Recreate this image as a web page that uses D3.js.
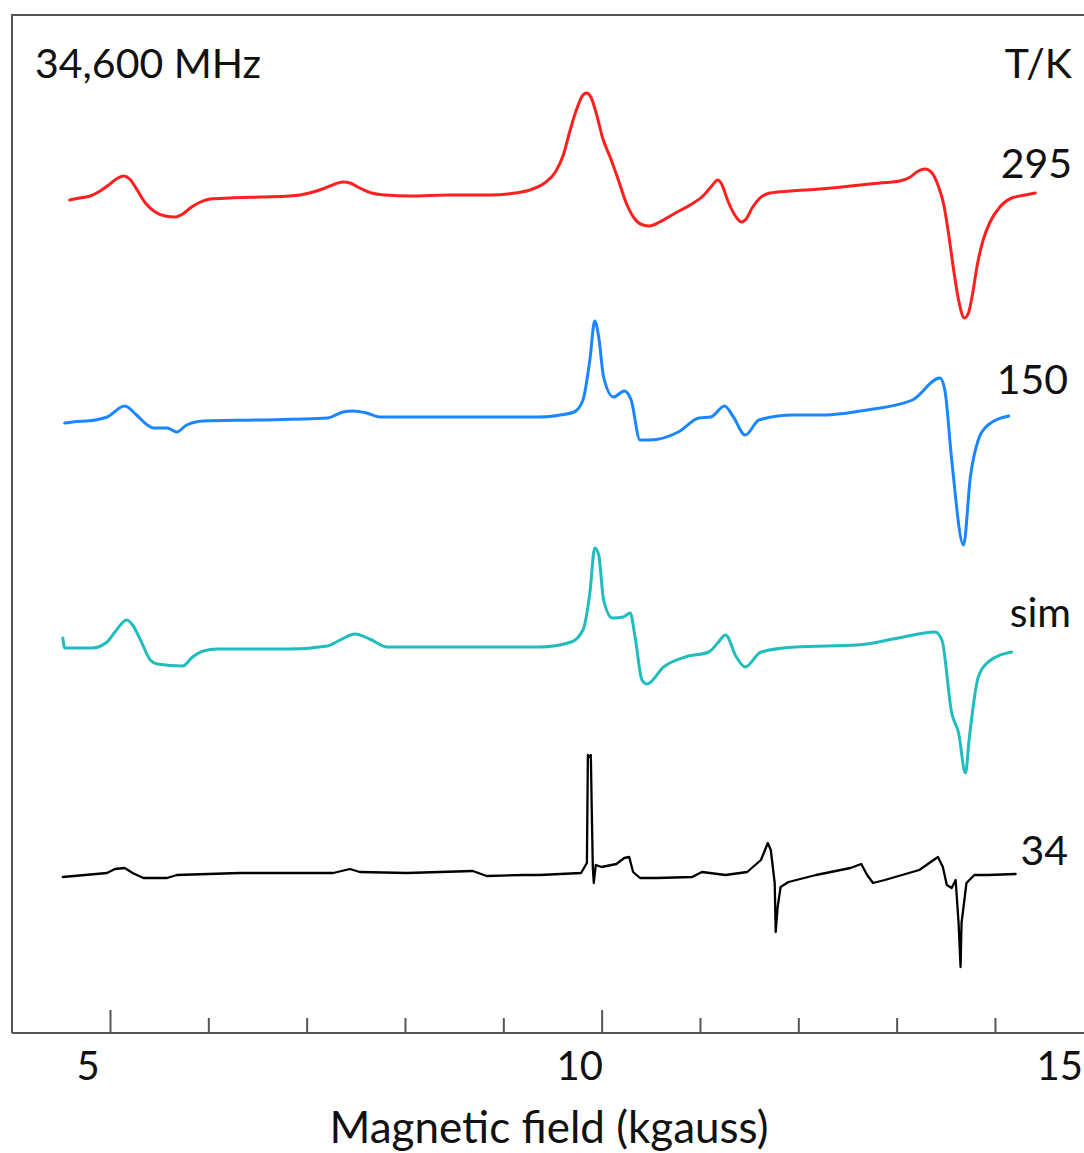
<!DOCTYPE html>
<html>
<head>
<meta charset="utf-8">
<script src="https://cdn.jsdelivr.net/npm/d3@7"></script>
<style>
  html, body { margin: 0; padding: 0; background: #fff; }
  svg { display: block; }
  text { font-family: Lato, "Open Sans", sans-serif; fill: #111; }
</style>
</head>
<body>
<svg id="chart" width="1084" height="1153"></svg>
<script>
// ---------------- data (field in kgauss, signal in arbitrary units relative to each trace's baseline) ----------------
const red295Field = [4.59,4.69,4.80,4.90,5.00,5.08,5.14,5.20,5.27,5.36,5.46,5.56,5.66,5.74,5.83,5.92,6.02,6.22,6.53,6.83,7.03,7.19,7.29,7.37,7.44,7.54,7.66,7.80,8.05,8.46,8.86,9.12,9.27,9.42,9.53,9.61,9.68,9.75,9.81,9.85,9.89,9.95,10.01,10.09,10.17,10.25,10.33,10.42,10.49,10.59,10.75,10.90,11.03,11.12,11.18,11.22,11.28,11.36,11.42,11.47,11.53,11.61,11.71,11.92,12.22,12.53,12.83,13.03,13.14,13.22,13.29,13.36,13.42,13.48,13.53,13.58,13.63,13.69,13.73,13.77,13.82,13.88,13.95,14.05,14.17,14.31,14.41];
const red295Signal = [-3,-1,1,6,13,19,21,18,8,-6,-15,-19,-20,-17,-10,-5,-2,-1,0,1,4,9,13,15,14,9,4,2,1,2,2,4,7,14,25,42,67,89,102,104,100,82,59,39,17,-6,-21,-28,-29,-25,-16,-8,1,11,17,13,-3,-19,-25,-22,-11,-1,4,6,8,11,14,16,20,26,28,24,12,-8,-38,-73,-103,-121,-116,-98,-68,-43,-25,-10,-1,2,4];

const blue150Field = [4.54,4.62,4.85,4.97,5.15,5.27,5.38,5.44,5.58,5.68,5.78,5.95,6.49,7.21,7.37,7.47,7.61,7.75,9.37,9.58,9.72,9.81,9.88,9.93,9.97,10.02,10.12,10.23,10.30,10.39,10.49,10.78,10.99,11.11,11.25,11.34,11.46,11.60,11.95,12.25,12.70,13.16,13.44,13.49,13.56,13.68,13.75,13.83,13.93,14.14];
const blue150Signal = [-3,-2,0,3,14,5,-5,-8,-8,-12,-5,-1,0,2,8,9,7,3,3,5,8,20,60,99,83,43,23,29,20,-20,-20,-12,2,3,14,3,-15,0,5,5,10,20,42,30,-40,-125,-57,-20,-5,4];

const simField = [4.52,4.54,4.82,4.97,5.05,5.17,5.23,5.31,5.41,5.48,5.74,5.84,5.95,6.09,6.83,7.21,7.34,7.49,7.64,7.82,8.43,9.37,9.69,9.81,9.88,9.93,9.97,10.02,10.11,10.22,10.29,10.34,10.41,10.46,10.63,10.85,11.09,11.18,11.26,11.37,11.46,11.62,11.97,12.60,13.02,13.39,13.46,13.56,13.63,13.70,13.74,13.83,13.93,14.17];
const simSignal = [10,0,0,6,16,28,23,8,-12,-16,-18,-9,-3,-1,-1,2,8,14,9,1,1,1,6,18,55,100,93,48,30,31,35,11,-32,-36,-19,-9,-4,5,13,-9,-19,-4,1,3,10,16,8,-65,-85,-125,-89,-29,-14,-4];

const k34Field = [4.52,4.97,5.05,5.15,5.23,5.34,5.58,5.68,6.32,7.27,7.44,7.54,8.02,8.69,8.83,9.20,9.37,9.79,9.85,9.86,9.88,9.89,9.90,9.91,9.92,9.94,10.00,10.15,10.23,10.28,10.32,10.39,10.56,10.92,11.02,11.26,11.48,11.62,11.69,11.72,11.76,11.77,11.79,11.82,11.90,12.18,12.53,12.64,12.70,12.76,12.88,13.23,13.42,13.47,13.51,13.56,13.60,13.63,13.65,13.66,13.71,13.79,13.93,14.21];
const k34Signal = [-2,2,6,7,2,-3,-3,0,2,2,6,3,2,4,-1,0,0,2,12,120,118,120,62,8,-8,10,8,11,17,18,3,-3,-3,-2,3,0,3,15,32,25,-8,-57,-32,-12,-7,0,7,11,0,-8,-5,5,18,8,-10,-13,-5,-48,-92,-48,-8,0,0,1];

const traceLabels = ["295", "150", "sim", "34"];
const tickValues = [5,6,7,8,9,10,11,12,13,14,15];
const tickLabels = [5,10,15];
const frequencyLabel = "34,600 MHz";
const temperatureHeader = "T/K";
const xTitle = "Magnetic field (kgauss)";

// ---------------- layout ----------------
const svg = d3.select("#chart");
const W = 1084, H = 1153;
const frameLeft = 12, frameTop = 15, axisY = 1033;

const x = d3.scaleLinear().domain([5, 15]).range([110, 1093.3]);
const y = d3.scaleLinear().domain([0, axisY - frameTop]).range([axisY, frameTop]);

const traces = [
  { field: red295Field,  signal: red295Signal,  color: "#ff1f1f", width: 3, base: 836, curve: d3.curveMonotoneX, label: traceLabels[0], lx: 1072, ly: 178 },
  { field: blue150Field, signal: blue150Signal, color: "#1a86ff", width: 3, base: 613, curve: d3.curveMonotoneX, label: traceLabels[1], lx: 1068, ly: 394 },
  { field: simField,     signal: simSignal,     color: "#1fbdbd", width: 3, base: 385, curve: d3.curveMonotoneX, label: traceLabels[2], lx: 1071, ly: 627 },
  { field: k34Field,     signal: k34Signal,     color: "#000000", width: 2.3, base: 158, curve: d3.curveLinear,     label: traceLabels[3], lx: 1068, ly: 865 }
];

// frame
svg.append("line").attr("x1", frameLeft).attr("x2", frameLeft).attr("y1", frameTop - 1).attr("y2", axisY)
  .attr("stroke", "#555").attr("stroke-width", 2);
svg.append("line").attr("x1", frameLeft).attr("x2", W).attr("y1", frameTop).attr("y2", frameTop)
  .attr("stroke", "#555").attr("stroke-width", 2);

// bottom axis
const axis = d3.axisBottom(x).tickValues(tickValues).tickSizeInner(-15).tickSizeOuter(0).tickFormat("");
const ag = svg.append("g").attr("transform", `translate(0,${axisY})`).call(axis);
ag.select(".domain").remove();
ag.selectAll(".tick line").attr("stroke", "#555").attr("stroke-width", 2)
  .attr("y2", d => tickLabels.includes(d) ? -23 : -15);
svg.append("line").attr("x1", frameLeft).attr("x2", W).attr("y1", axisY).attr("y2", axisY)
  .attr("stroke", "#555").attr("stroke-width", 2);

// tick labels
svg.append("g").selectAll("text").data(tickLabels).join("text")
  .attr("x", d => d === 15 ? 1083 : x(d) - 22)
  .attr("y", 1080)
  .attr("text-anchor", d => d === 15 ? "end" : "middle")
  .attr("font-size", 40)
  .text(d => d);

// axis title
svg.append("text").attr("x", 549).attr("y", 1143).attr("text-anchor", "middle")
  .attr("font-size", 44).text(xTitle);

// header texts
svg.append("text").attr("x", 35).attr("y", 78).attr("font-size", 41).text(frequencyLabel);
svg.append("text").attr("x", 1072).attr("y", 78).attr("text-anchor", "end").attr("font-size", 41).text(temperatureHeader);

// traces
traces.forEach(t => {
  const pts = t.field.map((f, i) => [f, t.signal[i]]);
  const line = d3.line()
    .x(d => x(d[0]))
    .y(d => y(t.base + d[1]))
    .curve(t.curve);
  svg.append("path").datum(pts)
    .attr("d", line)
    .attr("fill", "none")
    .attr("stroke", t.color)
    .attr("stroke-width", t.width)
    .attr("stroke-linejoin", "round")
    .attr("stroke-linecap", "round");
  svg.append("text").attr("x", t.lx).attr("y", t.ly).attr("text-anchor", "end")
    .attr("font-size", 41).text(t.label);
});
</script>
</body>
</html>
